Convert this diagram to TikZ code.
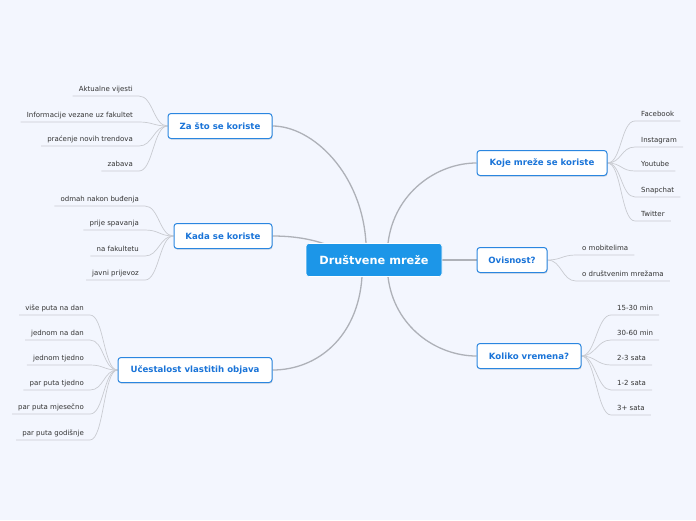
\documentclass[tikz,border=0pt]{standalone}
\usepackage{fontspec}
\setmainfont{DejaVu Sans}
\usetikzlibrary{shadows,calc}
\pgfdeclarelayer{edges}
\pgfsetlayers{edges,main}
\definecolor{bgc}{HTML}{F3F6FE}
\definecolor{centralc}{HTML}{1C96E8}
\definecolor{topicc}{HTML}{2A86E0}
\definecolor{topictext}{HTML}{1A74D8}
\definecolor{leaftext}{HTML}{333333}
\definecolor{mainedge}{HTML}{AEB1B8}
\definecolor{leafedge}{HTML}{C9CBD1}
\begin{document}
\begin{tikzpicture}[x=1pt,y=-1pt,
  central/.style={fill=centralc, draw=white, line width=0.6pt, rounded corners=3pt, text=white,
    font=\fontsize{11.3}{13}\selectfont\bfseries, inner sep=0pt, minimum width=136pt, minimum height=33pt},
  topic/.style={draw=topicc, line width=1pt, fill=white, rounded corners=3pt, text=topictext,
    font=\fontsize{8.6}{10}\selectfont\bfseries, inner sep=0pt, minimum height=25pt,
    drop shadow={opacity=0.25, shadow xshift=0.6pt, shadow yshift=-1.2pt}},
  leaf/.style={font=\fontsize{7}{8.5}\selectfont, text=leaftext, inner xsep=6pt, inner ysep=3pt,
    text height=5.3pt, text depth=1.5pt},
  mainline/.style={draw=mainedge, line width=1.3pt},
  leafline/.style={draw=leafedge, line width=0.7pt}]
\useasboundingbox (0,0) rectangle (696,520);
\begin{pgfonlayer}{edges}
\fill[bgc] (0,0) rectangle (696,520);
\end{pgfonlayer}

% central and topics
\node[central] (c) at (374,260) {Društvene mreže};
\node[topic, minimum width=104pt] (za) at (220,126) {Za što se koriste};
\node[topic, minimum width=98pt] (ka) at (223,236) {Kada se koriste};
\node[topic, minimum width=154pt] (uc) at (195,370) {Učestalost vlastitih objava};
\node[topic, minimum width=130pt] (ko) at (542,163) {Koje mreže se koriste};
\node[topic, minimum width=70pt] (ov) at (512,260) {Ovisnost?};
\node[topic, minimum width=104pt] (kv) at (529,356) {Koliko vremena?};

% leaves: Za što se koriste
\node[leaf, anchor=south east] (z1) at (139,96) {Aktualne vijesti};
\node[leaf, anchor=south east] (z2) at (139,122) {Informacije vezane uz fakultet};
\node[leaf, anchor=south east] (z3) at (139,146) {praćenje novih trendova};
\node[leaf, anchor=south east] (z4) at (139,171) {zabava};
% leaves: Kada se koriste
\node[leaf, anchor=south east] (k1) at (145,206) {odmah nakon buđenja};
\node[leaf, anchor=south east] (k2) at (145,230) {prije spavanja};
\node[leaf, anchor=south east] (k3) at (145,256) {na fakultetu};
\node[leaf, anchor=south east] (k4) at (145,280) {javni prijevoz};
% leaves: Učestalost
\node[leaf, anchor=south east] (u1) at (90,315) {više puta na dan};
\node[leaf, anchor=south east] (u2) at (90,340) {jednom na dan};
\node[leaf, anchor=south east] (u3) at (90,365) {jednom tjedno};
\node[leaf, anchor=south east] (u4) at (90,390) {par puta tjedno};
\node[leaf, anchor=south east] (u5) at (90,414) {par puta mjesečno};
\node[leaf, anchor=south east] (u6) at (90,440) {par puta godišnje};
% leaves: Koje mreže
\node[leaf, anchor=south west] (m1) at (635,121) {Facebook};
\node[leaf, anchor=south west] (m2) at (635,147) {Instagram};
\node[leaf, anchor=south west] (m3) at (635,171) {Youtube};
\node[leaf, anchor=south west] (m4) at (635,197) {Snapchat};
\node[leaf, anchor=south west] (m5) at (635,221) {Twitter};
% leaves: Ovisnost
\node[leaf, anchor=south west] (o1) at (576,255) {o mobitelima};
\node[leaf, anchor=south west] (o2) at (576,281) {o društvenim mrežama};
% leaves: Koliko vremena
\node[leaf, anchor=south west] (v1) at (611,315) {15-30 min};
\node[leaf, anchor=south west] (v2) at (611,340) {30-60 min};
\node[leaf, anchor=south west] (v3) at (611,365) {2-3 sata};
\node[leaf, anchor=south west] (v4) at (611,390) {1-2 sata};
\node[leaf, anchor=south west] (v5) at (611,415) {3+ sata};

\begin{pgfonlayer}{edges}
% main connectors
\draw[mainline] ($(c.north)+(-8,0)$) .. controls +(-4,-70) and +(40,0) .. (za.east);
\draw[mainline] ($(c.center)+(-30,-8)$) .. controls +(-20,-10) and +(30,0) .. (ka.east);
\draw[mainline] ($(c.south)+(-12,0)$) .. controls +(-4,60) and +(45,0) .. (uc.east);
\draw[mainline] ($(c.north)+(14,0)$) .. controls +(6,-50) and +(-40,0) .. (ko.west);
\draw[mainline] (c.east) -- (ov.west);
\draw[mainline] ($(c.south)+(14,0)$) .. controls +(6,50) and +(-40,0) .. (kv.west);
% leaf connectors (left)
\foreach \n in {z1,z2,z3,z4}
  \draw[leafline] (\n.south west) -- (\n.south east) .. controls +(14,0) and +(-14,0) .. (za.west);
\foreach \n in {k1,k2,k3,k4}
  \draw[leafline] (\n.south west) -- (\n.south east) .. controls +(14,0) and +(-14,0) .. (ka.west);
\foreach \n in {u1,u2,u3,u4,u5,u6}
  \draw[leafline] (\n.south west) -- (\n.south east) .. controls +(14,0) and +(-14,0) .. (uc.west);
% leaf connectors (right)
\foreach \n in {m1,m2,m3,m4,m5}
  \draw[leafline] (\n.south east) -- (\n.south west) .. controls +(-14,0) and +(14,0) .. (ko.east);
\foreach \n in {o1,o2}
  \draw[leafline] (\n.south east) -- (\n.south west) .. controls +(-14,0) and +(14,0) .. (ov.east);
\foreach \n in {v1,v2,v3,v4,v5}
  \draw[leafline] (\n.south east) -- (\n.south west) .. controls +(-14,0) and +(14,0) .. (kv.east);
\end{pgfonlayer}
\end{tikzpicture}
\end{document}
